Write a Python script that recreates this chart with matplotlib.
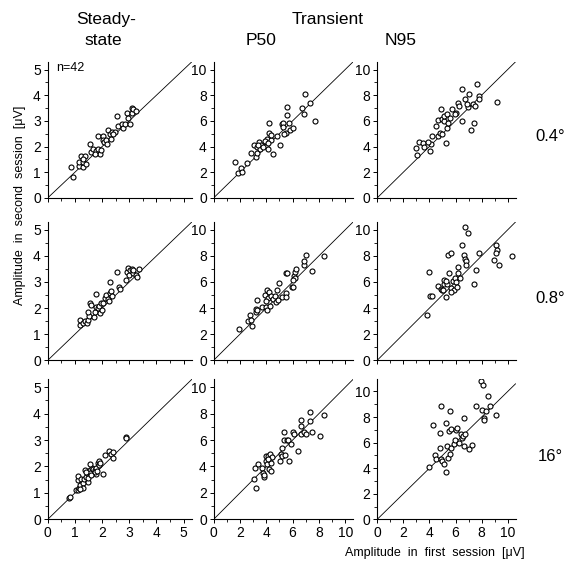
import matplotlib
matplotlib.use("Agg")
import matplotlib.pyplot as plt
from matplotlib.ticker import MultipleLocator

plt.rcParams['font.family'] = ['Liberation Sans', 'DejaVu Sans']

# steady-state, 0.4 deg
ss04_x = [0.86, 0.93, 1.14, 1.15, 1.30, 1.30, 1.23, 1.38, 1.30, 1.54, 1.60, 1.67, 1.77, 1.85,
          1.91, 1.94, 1.85, 2.04, 2.04, 2.06, 2.16, 2.19, 2.22, 2.28, 2.35, 2.31, 2.47, 2.53,
          2.59, 2.72, 2.75, 2.83, 2.90, 2.96, 3.02, 3.09, 3.09, 3.15, 3.25, 1.73, 1.42, 2.41]
ss04_y = [1.19, 0.80, 1.25, 1.38, 1.21, 1.38, 1.64, 1.64, 1.51, 2.09, 1.77, 1.90, 1.83, 1.90,
          1.71, 1.86, 2.42, 2.42, 2.25, 2.16, 2.25, 2.09, 2.64, 2.48, 2.55, 2.29, 2.58, 3.19,
          2.80, 2.87, 2.74, 2.87, 3.32, 3.13, 2.87, 3.32, 3.51, 3.45, 3.38, 1.71, 1.32, 2.48]

# P50, 0.4 deg
p04_x = [1.60, 1.83, 2.11, 2.19, 2.54, 2.80, 3.05, 3.18, 3.26, 3.31, 3.44, 3.51, 3.61, 3.94,
         4.02, 4.12, 4.20, 4.22, 4.33, 4.38, 4.53, 4.83, 5.04, 5.17, 5.24, 5.29, 5.55, 5.55,
         5.52, 5.73, 5.80, 6.00, 6.69, 6.87, 6.92, 7.33, 7.74, 3.87, 4.12, 3.36, 3.77, 5.34]
p04_y = [2.76, 1.91, 2.33, 1.99, 2.69, 3.46, 4.11, 3.20, 3.51, 3.93, 4.32, 3.80, 4.11, 4.03,
         4.57, 3.80, 5.87, 5.09, 4.50, 4.88, 3.41, 4.83, 4.13, 5.74, 5.87, 5.53, 7.08, 6.43,
         5.09, 5.87, 5.27, 5.43, 6.98, 6.56, 8.11, 7.42, 5.99, 4.39, 4.24, 4.13, 3.93, 4.96]

# N95, 0.4 deg
n04_x = [2.97, 3.05, 3.21, 3.54, 3.62, 4.05, 4.13, 4.23, 4.49, 4.64, 4.69, 4.82, 4.90, 4.95,
         5.08, 5.15, 5.26, 5.31, 5.38, 5.54, 5.72, 6.03, 6.18, 6.28, 6.49, 6.49, 6.74, 6.95,
         7.05, 7.21, 7.31, 7.41, 7.51, 7.64, 7.77, 7.82, 5.00, 6.87, 5.46, 5.97, 3.87, 9.20]
n04_y = [3.88, 3.36, 4.32, 4.24, 3.98, 3.62, 4.19, 4.81, 5.58, 6.10, 4.83, 5.09, 6.90, 6.12,
         5.99, 6.38, 4.24, 5.48, 6.51, 6.25, 6.90, 6.64, 7.42, 7.16, 5.99, 8.50, 7.67, 7.08,
         8.06, 5.27, 7.29, 5.87, 7.16, 8.84, 7.93, 7.67, 5.00, 7.29, 5.87, 6.51, 4.32, 7.50]

# steady-state, 0.8 deg
ss08_x = [1.20, 1.20, 1.30, 1.36, 1.44, 1.48, 1.52, 1.48, 1.57, 1.60, 1.69, 1.73, 1.77, 1.79,
          1.85, 1.89, 1.91, 1.98, 1.94, 2.04, 2.10, 2.14, 2.22, 2.28, 2.28, 2.32, 2.26, 2.53,
          2.63, 2.65, 2.88, 2.90, 2.94, 2.98, 3.02, 3.09, 3.12, 3.15, 3.25, 3.30, 3.37, 2.35]
ss08_y = [1.35, 1.54, 1.41, 1.50, 1.44, 1.54, 1.69, 1.86, 2.21, 2.12, 1.67, 1.86, 2.54, 2.03,
          1.99, 2.08, 1.82, 1.92, 2.18, 2.21, 2.37, 2.50, 2.33, 3.01, 2.56, 2.67, 2.28, 3.40,
          2.82, 2.74, 3.08, 3.40, 3.53, 3.27, 3.46, 3.49, 3.33, 3.46, 3.27, 3.21, 3.49, 2.46]

# P50, 0.8 deg
p08_x = [1.96, 2.60, 2.77, 2.85, 2.93, 3.18, 3.23, 3.28, 3.28, 3.69, 3.87, 4.00, 4.05, 4.05,
         4.12, 4.20, 4.30, 4.38, 4.50, 4.63, 4.76, 4.81, 4.89, 4.96, 5.22, 5.47, 5.52, 5.57,
         5.47, 5.93, 6.03, 6.08, 6.16, 6.23, 6.18, 6.84, 6.87, 7.00, 7.51, 8.37, 3.94, 6.03]
p08_y = [2.38, 3.02, 3.49, 3.07, 2.64, 3.67, 3.93, 4.63, 3.85, 4.11, 5.01, 4.06, 3.85, 5.40,
         4.78, 5.27, 4.19, 4.96, 4.70, 4.96, 4.44, 5.35, 4.63, 5.92, 4.88, 6.69, 5.14, 6.69,
         4.88, 5.61, 5.61, 6.43, 6.77, 7.03, 6.30, 7.29, 7.62, 8.06, 6.82, 8.01, 4.57, 6.12]

# N95, 0.8 deg
n08_x = [3.79, 3.97, 4.05, 4.18, 4.67, 4.87, 5.00, 5.08, 5.13, 5.26, 5.44, 5.51, 5.69, 5.69,
         5.77, 5.85, 5.95, 6.03, 6.10, 6.21, 6.21, 6.31, 6.46, 6.62, 6.72, 6.72, 6.79, 6.79,
         6.97, 7.38, 7.54, 7.82, 5.38, 5.64, 5.26, 5.05, 9.08, 9.15, 8.95, 9.33, 9.08, 10.30]
n08_y = [3.49, 6.76, 4.95, 4.95, 5.66, 5.48, 5.41, 5.87, 6.17, 4.85, 8.09, 6.68, 8.21, 5.54,
         6.05, 5.36, 6.30, 5.97, 5.61, 6.68, 7.14, 6.30, 8.85, 8.09, 10.20, 7.76, 7.58, 7.32,
         9.74, 5.87, 6.94, 8.21, 5.87, 5.20, 6.05, 5.41, 8.85, 8.46, 7.69, 7.31, 8.20, 8.00]

# steady-state, 16 deg
ss16_x = [0.77, 0.80, 1.02, 1.11, 1.14, 1.11, 1.11, 1.20, 1.23, 1.31, 1.35, 1.38, 1.41, 1.47,
          1.51, 1.54, 1.56, 1.63, 1.66, 1.72, 1.76, 1.78, 1.84, 1.90, 1.88, 2.03, 2.09, 2.27,
          2.33, 2.40, 2.40, 2.86, 2.89, 1.47, 1.29, 1.56, 1.93, 1.72, 1.17, 1.41, 1.60, 1.82]
ss16_y = [0.82, 0.86, 1.11, 1.11, 1.17, 1.49, 1.65, 1.30, 1.53, 1.36, 1.53, 1.87, 1.62, 1.40,
          1.69, 1.87, 1.74, 1.96, 1.91, 1.87, 1.96, 1.70, 2.12, 2.21, 2.06, 1.70, 2.44, 2.59,
          2.46, 2.34, 2.54, 3.13, 3.07, 1.55, 1.20, 2.08, 2.12, 1.78, 1.15, 1.78, 1.68, 1.83]

# P50, 16 deg
p16_x = [3.08, 3.16, 3.19, 3.34, 3.68, 3.76, 3.81, 3.86, 3.94, 3.94, 4.02, 4.12, 4.20, 4.27,
         4.33, 4.38, 4.46, 5.05, 5.10, 5.16, 5.23, 5.31, 5.36, 5.41, 5.57, 5.67, 5.75, 5.88,
         6.01, 6.14, 6.40, 6.61, 6.61, 6.66, 6.87, 7.05, 7.30, 7.30, 7.49, 8.08, 8.42, 4.12]
p16_y = [3.05, 3.89, 2.37, 4.20, 3.87, 3.49, 3.18, 3.38, 4.38, 4.76, 4.20, 4.83, 3.82, 4.96,
         3.64, 4.30, 4.71, 4.40, 4.96, 5.42, 4.78, 5.98, 6.62, 4.86, 5.98, 6.03, 4.40, 5.73,
         6.62, 6.44, 5.17, 7.51, 7.05, 6.49, 6.62, 6.44, 7.46, 8.14, 6.62, 6.28, 7.91, 4.58]

# N95, 16 deg
n16_x = [3.95, 4.28, 4.46, 4.54, 4.80, 4.85, 4.80, 4.85, 4.98, 5.11, 5.24, 5.24, 5.32, 5.42,
         5.50, 5.57, 5.57, 5.63, 5.68, 5.88, 5.94, 6.01, 6.14, 6.27, 6.40, 6.53, 6.61, 6.66,
         6.66, 6.71, 7.05, 7.23, 7.56, 7.95, 8.08, 8.00, 8.15, 8.21, 8.34, 8.52, 8.67, 9.08]
n16_y = [4.06, 7.36, 5.04, 4.70, 6.77, 8.84, 5.61, 4.70, 4.57, 4.32, 3.67, 7.55, 5.74, 4.78,
         6.93, 5.14, 8.50, 5.61, 7.08, 5.87, 6.18, 7.00, 7.16, 6.00, 6.64, 6.33, 6.51, 5.74,
         7.93, 6.69, 5.48, 5.79, 8.84, 10.83, 10.52, 8.58, 7.93, 7.80, 8.45, 9.61, 8.84, 8.19]

panels = [
    [(ss04_x, ss04_y), (p04_x, p04_y), (n04_x, n04_y)],
    [(ss08_x, ss08_y), (p08_x, p08_y), (n08_x, n08_y)],
    [(ss16_x, ss16_y), (p16_x, p16_y), (n16_x, n16_y)],
]
row_labels = ['0.4°', '0.8°', '16°']

fig = plt.figure(figsize=(5.76, 5.62), dpi=100)

lefts = [0.083, 0.371, 0.655]
widths = [0.25, 0.242, 0.24]
bottoms = [0.648, 0.359, 0.076]
heights = [0.242, 0.246, 0.249]

for r in range(3):
    for c in range(3):
        ax = fig.add_axes([lefts[c], bottoms[r], widths[c], heights[r]])
        x, y = panels[r][c]
        if c == 0:
            lim = 5.3
            major, minor = 1, 0.5
        else:
            lim = 10.6
            major, minor = 2, 1
        ylim = lim
        if r == 2 and c == 2:
            ylim = 10.95
        ax.plot([0, lim], [0, lim], color='black', lw=0.6)
        ax.scatter(x, y, s=13, facecolors='white', edgecolors='black', linewidths=0.8, zorder=3)
        ax.set_xlim(0, lim)
        ax.set_ylim(0, ylim)
        ax.xaxis.set_major_locator(MultipleLocator(major))
        ax.xaxis.set_minor_locator(MultipleLocator(minor))
        ax.yaxis.set_major_locator(MultipleLocator(major))
        ax.yaxis.set_minor_locator(MultipleLocator(minor))
        for s in ['top', 'right']:
            ax.spines[s].set_visible(False)
        for s in ['left', 'bottom']:
            ax.spines[s].set_linewidth(0.8)
        ax.tick_params(which='major', direction='out', length=3, width=0.7, labelsize=10, pad=2)
        ax.tick_params(which='minor', direction='out', length=2, width=0.6)
        if r < 2:
            ax.tick_params(axis='x', labelbottom=False)
        if r == 0 and c == 0:
            ax.text(0.3, 5.05, 'n=42', fontsize=9, va='center')
    fig.text(0.955, bottoms[r] + heights[r] * 0.45, row_labels[r], fontsize=12, ha='center', va='center')

fig.text(0.185, 0.965, 'Steady-', fontsize=12.5, ha='center', va='center')
fig.text(0.18, 0.928, 'state', fontsize=12.5, ha='center', va='center')
fig.text(0.568, 0.965, 'Transient', fontsize=12.5, ha='center', va='center')
fig.text(0.453, 0.928, 'P50', fontsize=12.5, ha='center', va='center')
fig.text(0.695, 0.928, 'N95', fontsize=12.5, ha='center', va='center')

fig.text(0.035, 0.635, 'Amplitude  in  second  session  [\u03bcV]', fontsize=9, rotation=90,
         ha='center', va='center')
fig.text(0.755, 0.016, 'Amplitude  in  first  session  [\u03bcV]', fontsize=9,
         ha='center', va='center')

plt.savefig('out.png', dpi=100)
